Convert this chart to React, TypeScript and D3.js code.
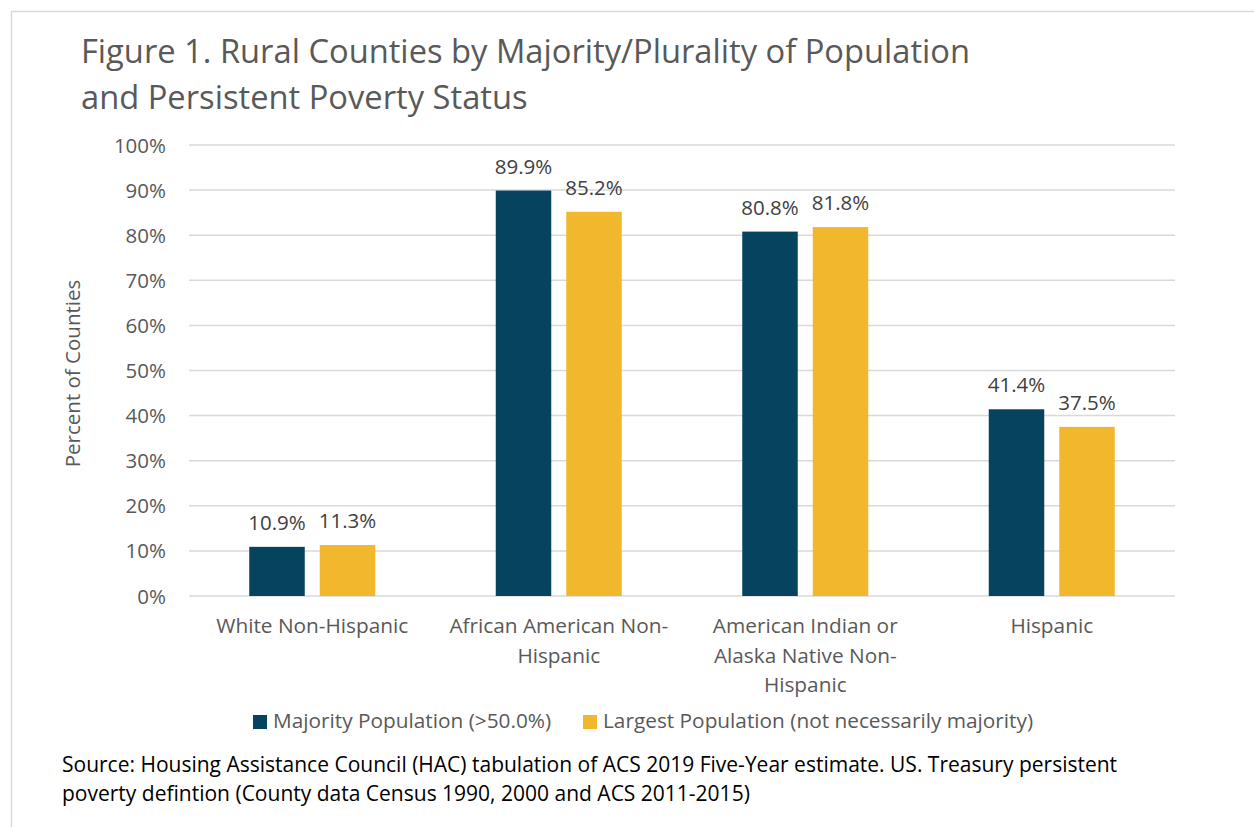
import React from "react";
import * as d3 from "d3";

const categories = ["White Non-Hispanic", "African American Non-Hispanic", "American Indian or Alaska Native Non-Hispanic", "Hispanic"];
const categoryLines = [
  ["White Non-Hispanic"],
  ["African American Non-", "Hispanic"],
  ["American Indian or", "Alaska Native Non-", "Hispanic"],
  ["Hispanic"],
];
const majorityValues = [10.9, 89.9, 80.8, 41.4];
const largestValues = [11.3, 85.2, 81.8, 37.5];
const seriesNames = ["Majority Population (>50.0%)", "Largest Population (not necessarily majority)"];
const yTicks = [0, 10, 20, 30, 40, 50, 60, 70, 80, 90, 100];

const FONT = "'Open Sans', Lato, sans-serif";
const COLORS = ["#05435F", "#F1B82D"];

export default function App() {
  const W = 1254, H = 827;
  const left = 189, right = 1175, top = 145, bottom = 596;
  const x = d3.scaleBand().domain(categories).range([left, right]).paddingInner(0).paddingOuter(0);
  const y = d3.scaleLinear().domain([0, 100]).range([bottom, top]);
  const barW = 55.5;
  const gap = 15;
  const series = [majorityValues, largestValues];

  return (
    <svg width={W} height={H} style={{ position: "absolute", left: 0, top: 0, background: "#fff" }}>
      <rect x={0} y={0} width={W} height={H} fill="#fff" />
      <path d={`M11.5,${H} L11.5,11.5 L${W},11.5`} fill="none" stroke="#d9d9d9" strokeWidth={1.5} />
      <text x={81} y={63} fontFamily={FONT} fontSize={32.7} fill="#595959">Figure 1. Rural Counties by Majority/Plurality of Population</text>
      <text x={81} y={109} fontFamily={FONT} fontSize={32.7} fill="#595959">and Persistent Poverty Status</text>

      {yTicks.map((t) => (
        <g key={t}>
          <line x1={left} x2={right} y1={y(t)} y2={y(t)} stroke="#d9d9d9" strokeWidth={1.5} />
          <text x={166} y={y(t) + 7.5} textAnchor="end" fontFamily={FONT} fontSize={20.5} fill="#595959">{t}%</text>
        </g>
      ))}

      <text transform={`translate(80,${(top + bottom) / 2 + 3}) rotate(-90)`} textAnchor="middle" fontFamily={FONT} fontSize={20.5} fill="#595959">Percent of Counties</text>

      {categories.map((c, i) => {
        const cx = x(c)! + x.bandwidth() / 2;
        return (
          <g key={c}>
            {series.map((vals, s) => {
              const bx = s === 0 ? cx - gap / 2 - barW : cx + gap / 2;
              const v = vals[i];
              return (
                <g key={s}>
                  <rect x={bx} y={y(v)} width={barW} height={bottom - y(v)} fill={COLORS[s]} />
                  <text x={bx + barW / 2} y={y(v) - 17} textAnchor="middle" fontFamily={FONT} fontSize={20.5} fill="#404040">{v.toFixed(1)}%</text>
                </g>
              );
            })}
            {categoryLines[i].map((ln, j) => (
              <text key={j} x={cx} y={633 + j * 29.5} textAnchor="middle" fontFamily={FONT} fontSize={20.8} fill="#595959">{ln}</text>
            ))}
          </g>
        );
      })}

      <g>
        <rect x={253} y={715} width={14} height={14} fill={COLORS[0]} />
        <text x={273} y={728} fontFamily={FONT} fontSize={20.8} fill="#595959">{seriesNames[0]}</text>
        <rect x={583} y={715} width={14} height={14} fill={COLORS[1]} />
        <text x={603} y={728} fontFamily={FONT} fontSize={20.8} fill="#595959">{seriesNames[1]}</text>
      </g>

      <text x={62} y={772} fontFamily={FONT} fontSize={21} fill="#000">Source: Housing Assistance Council (HAC) tabulation of ACS 2019 Five-Year estimate. US. Treasury persistent</text>
      <text x={62} y={801} fontFamily={FONT} fontSize={21} fill="#000">poverty defintion (County data Census 1990, 2000 and ACS 2011-2015)</text>
    </svg>
  );
}
